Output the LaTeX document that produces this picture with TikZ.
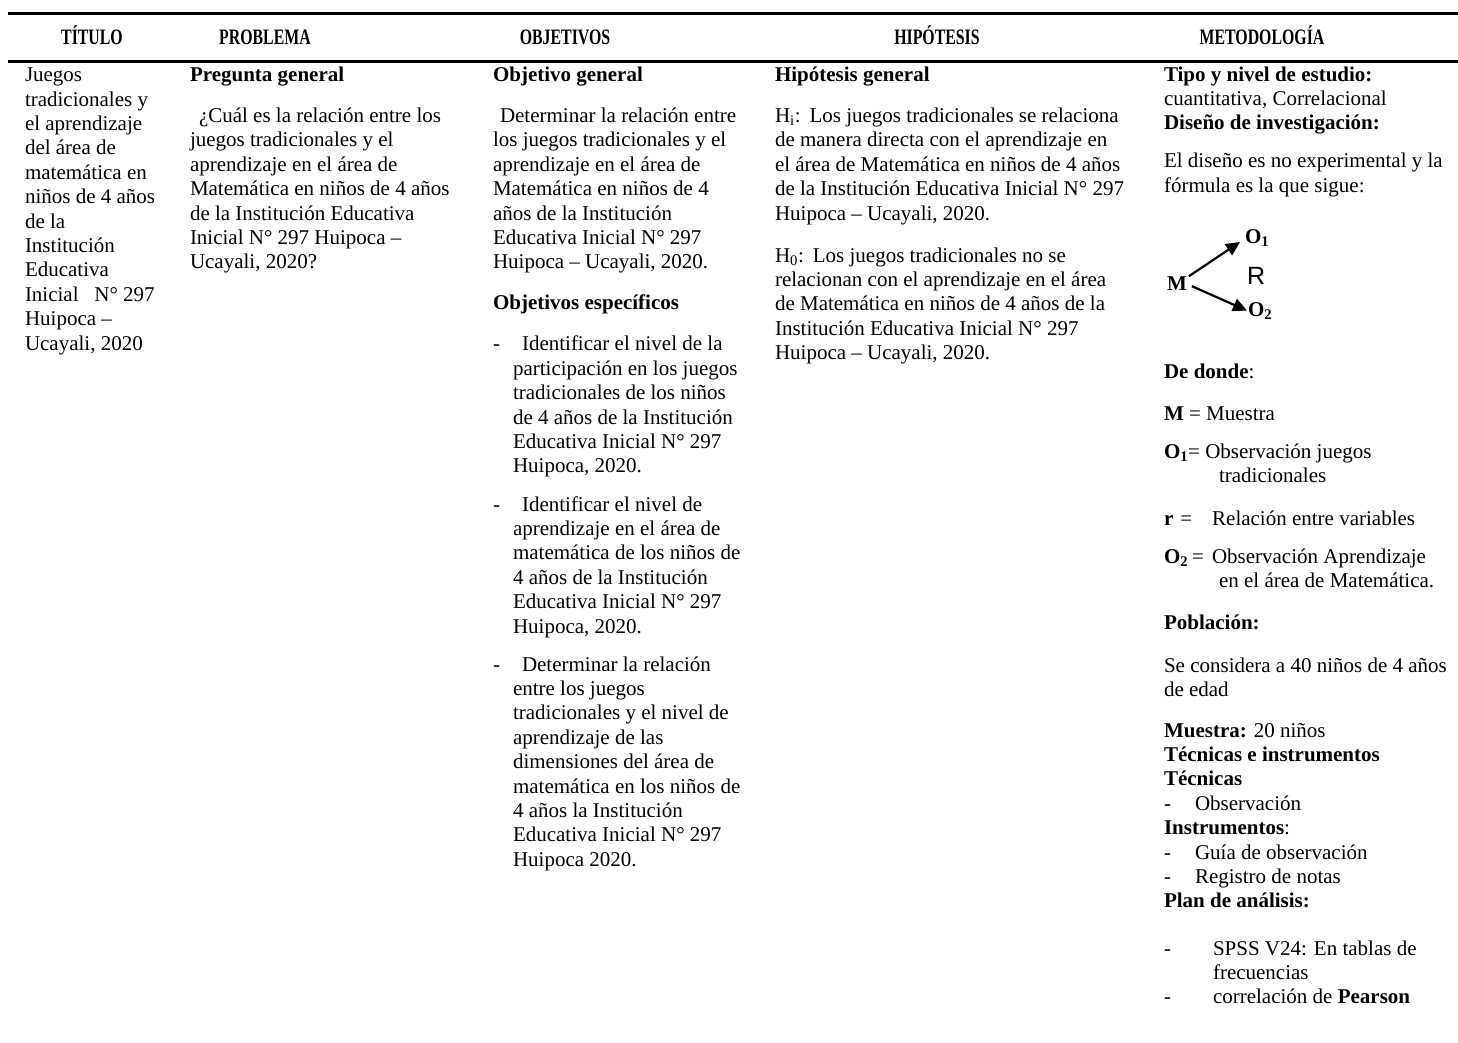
\documentclass[tikz,border=0pt]{standalone}
\usepackage{fontspec}
\setmainfont{Liberation Serif}
\newfontfamily\rsans{Liberation Sans}
\usetikzlibrary{arrows.meta}
\newcommand\fsz{\fontsize{21pt}{24.4pt}\selectfont}
\tikzset{
  txt/.style={anchor=base west, inner sep=0pt, outer sep=0pt, font=\fsz},
  btxt/.style={txt, font=\fsz\bfseries},
  hdr/.style={anchor=base, inner sep=0pt, outer sep=0pt, font=\fontsize{22pt}{26pt}\selectfont\bfseries},
  rulebar/.style={line width=2.3pt},
  arr/.style={line width=2.2pt, -{Triangle[length=14pt,width=13pt]}},
}
\newcommand\LL[4]{\node[txt] (#1) at (#2,#3) {#4};}
\newcommand\BL[4]{\node[btxt] (#1) at (#2,#3) {#4};}
\newcommand\HD[3]{\node[hdr] (#1) at (#2,45) {\scalebox{0.72}[1]{#3}};}
\begin{document}
\begin{tikzpicture}[x=1pt,y=-1pt]
\useasboundingbox (0,0) rectangle (1458,1043);
\fill[white] (0,0) rectangle (1458,1043);
% rules
\coordinate (r1a) at (8,13.5); \coordinate (r1b) at (1458,13.5);
\coordinate (r2a) at (8,61.5); \coordinate (r2b) at (1458,61.5);
\draw[rulebar] (r1a) -- (r1b);
\draw[rulebar] (r2a) -- (r2b);
% headers
\HD{h1}{92}{TÍTULO}
\HD{h2}{265}{PROBLEMA}
\HD{h3}{565}{OBJETIVOS}
\HD{h4}{937}{HIPÓTESIS}
\HD{h5}{1262}{METODOLOGÍA}
% column 1
\LL{a1}{25}{81.7}{Juegos}
\LL{a2}{25}{106.1}{tradicionales y}
\LL{a3}{25}{130.5}{el aprendizaje}
\LL{a4}{25}{154.9}{del área de}
\LL{a5}{25}{179.3}{matemática en}
\LL{a6}{25}{203.7}{niños de 4 años}
\LL{a7}{25}{228.1}{de la}
\LL{a8}{25}{252.5}{Institución}
\LL{a9}{25}{276.9}{Educativa}
\LL{a10}{25}{301.3}{Inicial\ \ \ N° 297}
\LL{a11}{25}{325.7}{Huipoca –}
\LL{a12}{25}{350.1}{Ucayali, 2020}
% column 2
\BL{b0}{190}{81.7}{Pregunta general}
\LL{b1}{199}{122.5}{¿Cuál es la relación entre los}
\LL{b2}{190}{146.9}{juegos tradicionales y el}
\LL{b3}{190}{171.3}{aprendizaje en el área de}
\LL{b4}{190}{195.7}{Matemática en niños de 4 años}
\LL{b5}{190}{220.1}{de la Institución Educativa}
\LL{b6}{190}{244.5}{Inicial N° 297 Huipoca –}
\LL{b7}{190}{268.9}{Ucayali, 2020?}
% column 3
\BL{c0}{493}{81.7}{Objetivo general}
\LL{c1}{500}{122.5}{Determinar la relación entre}
\LL{c2}{493}{146.9}{los juegos tradicionales y el}
\LL{c3}{493}{171.3}{aprendizaje en el área de}
\LL{c4}{493}{195.7}{Matemática en niños de 4}
\LL{c5}{493}{220.1}{años de la Institución}
\LL{c6}{493}{244.5}{Educativa Inicial N° 297}
\LL{c7}{493}{268.9}{Huipoca – Ucayali, 2020.}
\BL{c8}{493}{309.9}{Objetivos específicos}
\LL{d1}{493}{350.9}{-}
\LL{d1a}{522}{350.9}{Identificar el nivel de la}
\LL{d1b}{513}{375.3}{participación en los juegos}
\LL{d1c}{513}{399.7}{tradicionales de los niños}
\LL{d1d}{513}{424.1}{de 4 años de la Institución}
\LL{d1e}{513}{448.5}{Educativa Inicial N° 297}
\LL{d1f}{513}{472.9}{Huipoca, 2020.}
\LL{d2}{493}{511}{-}
\LL{d2a}{522}{511}{Identificar el nivel de}
\LL{d2b}{513}{535.4}{aprendizaje en el área de}
\LL{d2c}{513}{559.8}{matemática de los niños de}
\LL{d2d}{513}{584.2}{4 años de la Institución}
\LL{d2e}{513}{608.6}{Educativa Inicial N° 297}
\LL{d2f}{513}{633}{Huipoca, 2020.}
\LL{d3}{493}{671.1}{-}
\LL{d3a}{522}{671.1}{Determinar la relación}
\LL{d3b}{513}{695.5}{entre los juegos}
\LL{d3c}{513}{719.9}{tradicionales y el nivel de}
\LL{d3d}{513}{744.3}{aprendizaje de las}
\LL{d3e}{513}{768.7}{dimensiones del área de}
\LL{d3f}{513}{793.1}{matemática en los niños de}
\LL{d3g}{513}{817.5}{4 años la Institución}
\LL{d3h}{513}{841.9}{Educativa Inicial N° 297}
\LL{d3i}{513}{866.3}{Huipoca 2020.}
% column 4
\BL{e0}{775}{81.7}{Hipótesis general}
\LL{e1}{775}{122.5}{H\textsubscript{i}:\hspace{9pt}Los juegos tradicionales se relaciona}
\LL{e2}{775}{146.9}{de manera directa con el aprendizaje en}
\LL{e3}{775}{171.3}{el área de Matemática en niños de 4 años}
\LL{e4}{775}{195.7}{de la Institución Educativa Inicial N° 297}
\LL{e5}{775}{220.1}{Huipoca – Ucayali, 2020.}
\LL{f1}{775}{262}{H\textsubscript{0}:\hspace{9pt}Los juegos tradicionales no se}
\LL{f2}{775}{286.4}{relacionan con el aprendizaje en el área}
\LL{f3}{775}{310.8}{de Matemática en niños de 4 años de la}
\LL{f4}{775}{335.2}{Institución Educativa Inicial N° 297}
\LL{f5}{775}{359.6}{Huipoca – Ucayali, 2020.}
% column 5
\BL{g1}{1164}{81.7}{Tipo y nivel de estudio:}
\LL{g2}{1164}{105.8}{cuantitativa, Correlacional}
\BL{g3}{1164}{129.9}{Diseño de investigación:}
\LL{g4}{1164}{168}{El diseño es no experimental y la}
\LL{g5}{1164}{192.4}{fórmula es la que sigue:}
% diagram
\node[btxt] (M) at (1167,290) {M};
\node[btxt] (O1) at (1245,243) {O\textsubscript{1}};
\node[btxt] (O2) at (1248,316) {O\textsubscript{2}};
\node[txt, font=\rsans\fontsize{25pt}{28pt}\selectfont] (R) at (1247,284) {R};
\draw[arr] ([xshift=2pt]M.north east) -- ([xshift=-5pt,yshift=1pt]O1.base west);
\draw[arr] ([xshift=5pt,yshift=-3pt]M.east) -- ([xshift=-1pt]O2.west);
% definitions
\node[txt] (g6) at (1164,378) {\textbf{De donde}:};
\node[txt] (g7) at (1164,420) {\textbf{M} = Muestra};
\node[txt] (g8) at (1164,458) {\textbf{O\textsubscript{1}}= Observación juegos};
\LL{g9}{1219}{482.4}{tradicionales}
\node[txt] (g10) at (1164,525) {\textbf{r}\hspace{7pt}=\hspace{20pt}Relación entre variables};
\node[txt] (g11) at (1164,563) {\textbf{O\textsubscript{2}}\hspace{4pt}=\hspace{8pt}Observación Aprendizaje};
\LL{g12}{1219}{587.4}{en el área de Matemática.}
\BL{g13}{1164}{629}{Población:}
\LL{g14}{1164}{672}{Se considera a 40 niños de 4 años}
\LL{g15}{1164}{696.4}{de edad}
\node[txt] (g16) at (1164,737) {\textbf{Muestra:} 20 niños};
\BL{g17}{1164}{761.4}{Técnicas e instrumentos}
\BL{g18}{1164}{785.8}{Técnicas}
\LL{g19}{1164}{810.2}{-}
\LL{g19a}{1195}{810.2}{Observación}
\node[txt] (g20) at (1164,834.6) {\textbf{Instrumentos}:};
\LL{g21}{1164}{859}{-}
\LL{g21a}{1195}{859}{Guía de observación}
\LL{g22}{1164}{883.4}{-}
\LL{g22a}{1195}{883.4}{Registro de notas}
\BL{g23}{1164}{907.8}{Plan de análisis:}
\LL{g24}{1164}{955}{-}
\LL{g24a}{1213}{955}{SPSS V24: En tablas de}
\LL{g25}{1213}{979.4}{frecuencias}
\LL{g26}{1164}{1003.8}{-}
\node[txt] (g26a) at (1213,1003.8) {correlación de \textbf{Pearson}};
\end{tikzpicture}
\end{document}
